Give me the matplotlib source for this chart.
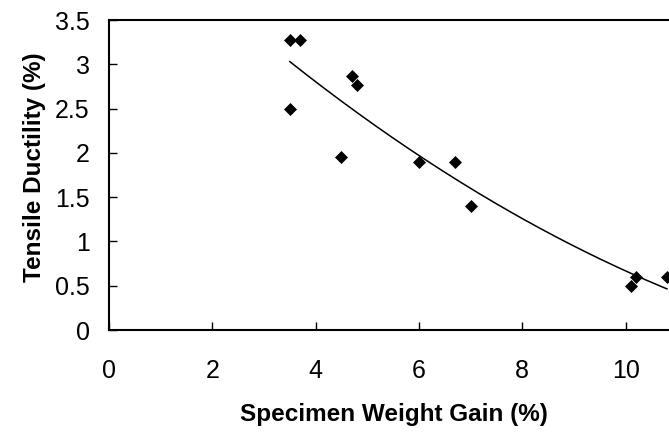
import numpy as np
import matplotlib
matplotlib.use("Agg")
import matplotlib.pyplot as plt

# weight gain vs tensile ductility
weight_gain = [3.5, 3.7, 3.5, 4.5, 4.7, 4.8, 6.0, 6.7, 7.0, 10.1, 10.2, 10.8]
ductility = [3.27, 3.27, 2.5, 1.95, 2.87, 2.77, 1.9, 1.9, 1.4, 0.5, 0.6, 0.6]
x_ticks = [0, 2, 4, 6, 8, 10]
y_ticks = [0, 0.5, 1, 1.5, 2, 2.5, 3, 3.5]

plt.rcParams['font.family'] = ['Liberation Sans', 'DejaVu Sans']

fig = plt.figure(figsize=(6.69, 4.33), dpi=100)
ax = fig.add_axes([109 / 669, 103 / 433, 560 / 669, 310 / 433])

ax.plot(weight_gain, ductility, linestyle='none', marker='D', ms=6,
        color='black', mec='black', mew=0.5, clip_on=True)

# 2nd order polynomial trendline like Excel
coef = np.polyfit(weight_gain, ductility, 2)
xs = np.linspace(min(weight_gain), max(weight_gain), 200)
ax.plot(xs, np.polyval(coef, xs), color='black', lw=1.1)

ax.set_xlim(0, 10.84)
ax.set_ylim(0, 3.5)
ax.set_xticks(x_ticks)
ax.set_yticks(y_ticks)
ax.set_yticklabels(['0', '0.5', '1', '1.5', '2', '2.5', '3', '3.5'])

for side in ['left', 'bottom', 'top']:
    ax.spines[side].set_linewidth(1.5)
ax.spines['right'].set_visible(False)

ax.tick_params(axis='both', direction='in', length=6, width=1, labelsize=18)
ax.tick_params(axis='x', pad=21)
ax.tick_params(axis='y', pad=14)

ax.set_xlabel('Specimen Weight Gain (%)', fontsize=17.5, fontweight='bold')
ax.set_ylabel('Tensile Ductility (%)', fontsize=17.5, fontweight='bold')
ax.xaxis.set_label_coords(0.509, -0.235)
ax.yaxis.set_label_coords(-0.112, 0.526)

fig.savefig('out.png', dpi=100)
